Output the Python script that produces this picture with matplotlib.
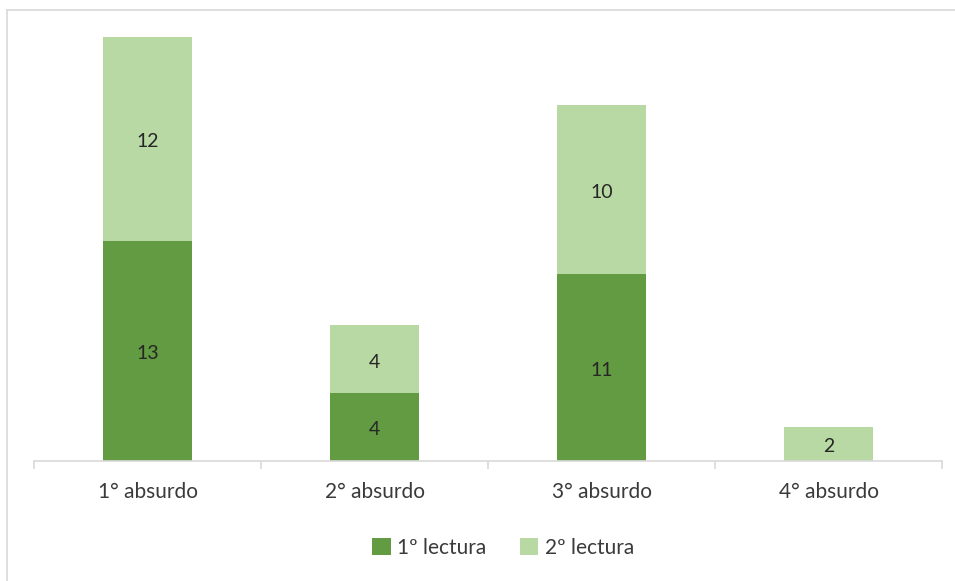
import matplotlib
matplotlib.use("Agg")
import matplotlib.pyplot as plt
from matplotlib.lines import Line2D

categories = ["1° absurdo", "2° absurdo", "3° absurdo", "4° absurdo"]
lectura1 = [13, 4, 11, 0]
lectura2 = [12, 4, 10, 2]
series_names = ["1º lectura", "2º lectura"]

plt.rcParams['font.family'] = ['Lato', 'DejaVu Sans']

W, H = 955, 581
fig = plt.figure(figsize=(W/100, H/100), dpi=100)
ax = fig.add_axes([34/W, (H-461)/H, (942-34)/W, (461-37)/H])

c1 = "#629B41"
c2 = "#B8D9A4"
x = range(len(categories))
width = 0.396
b1 = ax.bar(x, lectura1, width, color=c1, label=series_names[0])
b2 = ax.bar(x, lectura2, width, bottom=lectura1, color=c2, label=series_names[1])

def label(xv, yv, txt):
    ax.annotate(txt, (xv, yv), xytext=(0, -2), textcoords="offset points",
                ha="center", va="center", fontsize=14, color="#262626")

for i in x:
    if lectura1[i] > 0:
        label(i, lectura1[i]/2, str(lectura1[i]))
    if lectura2[i] > 0:
        label(i, lectura1[i] + lectura2[i]/2, str(lectura2[i]))

ax.set_xlim(-0.5, len(categories) - 0.5)
ax.set_ylim(0, 25)
ax.set_yticks([])
ax.set_xticks(list(x))
ax.set_xticklabels(categories, fontsize=15, color="#3A3A3A")
ax.tick_params(axis="x", which="major", length=0, pad=15)
ax.set_xticks([i - 0.5 for i in range(len(categories) + 1)], minor=True)
ax.tick_params(axis="x", which="minor", length=6, color="#D9D9D9", width=1.2)
for s in ["top", "right", "left"]:
    ax.spines[s].set_visible(False)
ax.spines["bottom"].set_color("#D9D9D9")
ax.spines["bottom"].set_linewidth(1.2)

leg = fig.legend(handles=[b1, b2], labels=series_names, loc="center", bbox_to_anchor=(503/W, 1 - 548/H),
                 ncol=2, frameon=False, fontsize=15, handlelength=0.9, handleheight=0.9,
                 handletextpad=0.3, columnspacing=1.6)
for t in leg.get_texts():
    t.set_color("#3A3A3A")

# outer border (top and left visible)
fig.add_artist(Line2D([7/W, 7/W], [0, 1 - 10/H], transform=fig.transFigure, color="#D9D9D9", lw=1.2))
fig.add_artist(Line2D([7/W, 1], [1 - 10/H, 1 - 10/H], transform=fig.transFigure, color="#D9D9D9", lw=1.2))

fig.savefig("out.png", dpi=100)
